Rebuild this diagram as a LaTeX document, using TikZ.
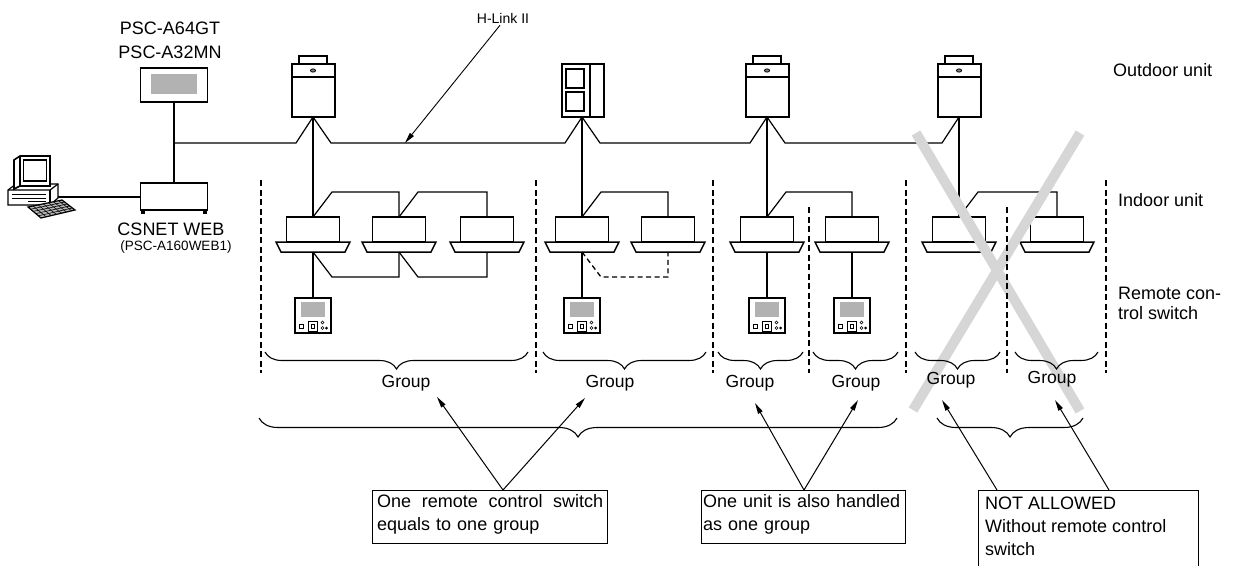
\documentclass[tikz,border=0pt]{standalone}
\usepackage{fontspec}
\setmainfont{Liberation Sans}
\usetikzlibrary{arrows.meta,decorations.pathreplacing,calc}

\definecolor{screengray}{RGB}{178,178,178}
\definecolor{crossgray}{RGB}{214,214,214}

\tikzset{
  wire/.style={line width=1.2pt},
  body/.style={line width=1.5pt},
  heavy/.style={line width=2pt},
  sepline/.style={line width=1.7pt, dash pattern=on 6pt off 3.5pt},
  linkdash/.style={line width=1.3pt, dash pattern=on 5pt off 3.5pt},
  gbrace/.style={decorate, decoration={brace, mirror, amplitude=#1}, line width=1.1pt},
  arr/.style={line width=1pt, -{Triangle[length=11pt,width=5pt]}},
  lbl/.style={inner sep=0pt, font=\fontsize{18}{24}\selectfont},
  grp/.style={inner sep=0pt, font=\fontsize{17.5}{21}\selectfont},
  notebox/.style={draw, line width=1.2pt, anchor=north west, inner sep=0pt},
  notetext/.style={anchor=north west, inner sep=0pt, align=left, font=\fontsize{18}{23}\selectfont},
  % ceiling cassette indoor unit, origin at the top centre of its body
  indoor/.pic={
    \draw[body, fill=white] (-26.5,0) rectangle (26.5,25);
    \draw[body, fill=white] (-37,25) -- (37,25) -- (32,35) -- (-32,35) -- cycle;
    \coordinate (-top) at (0,0);
    \coordinate (-bot) at (0,35);
  },
  % single-fan outdoor unit, origin at the bottom centre
  outdoor/.pic={
    \draw[heavy, fill=white] (-14,-53) rectangle (14,-61);
    \draw[heavy, fill=white] (-21.5,-53) rectangle (21.5,0);
    \draw[wire] (-21.5,-40) -- (21.5,-40);
    \draw[line width=0.8pt, fill=gray] (0,-46.5) ellipse (2.6pt and 1.6pt);
    \coordinate (-bot) at (0,0);
  },
  % twin-panel outdoor unit, origin at the bottom connection point
  outdoorb/.pic={
    \draw[heavy, fill=white] (-20,-53) rectangle (22,0);
    \draw[heavy] (8,-53) -- (8,0);
    \draw[wire] (-16,-48) rectangle (2,-29);
    \draw[wire] (-16,-25) rectangle (2,-6);
    \coordinate (-bot) at (0,0);
  },
  % wired remote control switch, origin at the top centre
  remote/.pic={
    \draw[wire, fill=white] (-18,0) rectangle (18,35);
    \fill[screengray] (-12,4) rectangle (12,19);
    \draw[line width=0.7pt] (-14,26) rectangle (-10,30);
    \draw[line width=0.9pt] (-5,23.5) rectangle (4.5,33);
    \draw[line width=0.7pt] (-2,26.5) rectangle (1.5,30);
    \draw[line width=0.6pt] (9.5,24.5) circle (1.5pt) (9.5,30) circle (1.5pt);
    \fill (13.5,30) circle (1.5pt);
    \coordinate (-top) at (0,0);
  },
}

\begin{document}
\begin{tikzpicture}[x=1pt, y=-1pt]
\useasboundingbox (0,0) rectangle (1233,565);

% ---------- personal computer ----------
\draw[wire, fill=white] (8,190) -- (16,184) -- (58,184) -- (58,198) -- (50,205) -- (8,205) -- cycle;
\draw[wire] (8,190) -- (50,190) -- (58,184);
\draw[wire] (50,190) -- (50,205);
\draw[line width=0.7pt] (12,194) -- (46,194) (12,198) -- (46,198) (28,201.5) -- (46,201.5);
\draw[line width=1.6pt, fill=white] (14,160) -- (20,156) -- (50,156) -- (50,186) -- (20,186) -- (14,189) -- cycle;
\draw[wire] (20,156) -- (20,186);
\draw[wire] (23.5,160) rectangle (46.5,181);
\draw[wire, fill=gray!55] (28,207) -- (62,200) -- (75,210) -- (41,218) -- cycle;
\foreach \k in {0.2,0.4,0.6,0.8}
  \draw[line width=0.6pt] ($(28,207)!\k!(41,218)$) -- ($(62,200)!\k!(75,210)$);
\foreach \k in {0.15,0.3,0.45,0.6,0.75,0.9}
  \draw[line width=0.6pt] ($(28,207)!\k!(62,200)$) -- ($(41,218)!\k!(75,210)$);
\coordinate (pc) at (58,197);

% ---------- central station and web server ----------
\node[lbl, align=center] (psclabel) at (170,40) {PSC-A64GT\\PSC-A32MN};
\node[draw, wire, fill=white, minimum width=67pt, minimum height=34pt, inner sep=0pt] (psc) at (174,85) {};
\fill[screengray] ($(psc.center)+(-23,-11)$) rectangle ($(psc.center)+(23,9)$);
\node[draw, wire, fill=white, minimum width=67pt, minimum height=27pt, inner sep=0pt] (csnet) at (174,196.5) {};
\fill ($(csnet.south west)+(1,0)$) rectangle ($(csnet.south west)+(5,3.5)$);
\fill ($(csnet.south east)+(-5,0)$) rectangle ($(csnet.south east)+(-1,3.5)$);
\node[lbl] (csnetlabel) at (171,229) {CSNET WEB};
\node[inner sep=0pt, font=\fontsize{13.5}{16}\selectfont] (csnetmodel) at (176,247) {(PSC-A160WEB1)};
\coordinate (bus0) at (174,143);
\draw[wire] (psc) -- (csnet);
\draw[wire] (pc) -- (csnet.west |- pc);

% ---------- outdoor units ----------
\pic (o1) at (313,117) {outdoor};
\pic (o2) at (582,117) {outdoorb};
\pic (o3) at (767,117) {outdoor};
\pic (o4) at (959,117) {outdoor};

% H-LINK II bus, looping up to every outdoor unit
\draw[wire] (bus0) -- ($(o1-bot)+(-17,26)$) -- (o1-bot) -- ($(o1-bot)+(18,26)$)
  -- ($(o2-bot)+(-17,26)$) -- (o2-bot) -- ($(o2-bot)+(18,26)$)
  -- ($(o3-bot)+(-17,26)$) -- (o3-bot) -- ($(o3-bot)+(18,26)$)
  -- ($(o4-bot)+(-17,26)$) -- (o4-bot);
\node[inner sep=0pt, font=\fontsize{14}{16}\selectfont] (hlink) at (503,18) {H-Link II};
\coordinate (hltip) at (405,143);
\draw[arr, line width=0.9pt] ([xshift=-3pt, yshift=-2pt]hlink.south) -- (hltip);

% ---------- indoor units ----------
\pic (i1) at (313,217) {indoor};
\pic (i2) at (399,217) {indoor};
\pic (i3) at (487,217) {indoor};
\pic (i4) at (582,217) {indoor};
\pic (i5) at (668,217) {indoor};
\pic (i6) at (767,217) {indoor};
\pic (i7) at (852,217) {indoor};
\pic (i8) at (959,217) {indoor};
\pic (i9) at (1057,217) {indoor};

\draw[wire] (o1-bot) -- (i1-top);
\draw[wire] (o2-bot) -- (i4-top);
\draw[wire] (o3-bot) -- (i6-top);
\draw[wire] (o4-bot) -- (i8-top);

% operation wiring between indoor units
\draw[wire] (i1-top) -- ++(19,-25) -| (i2-top);
\draw[wire] (i2-top) -- ++(19,-25) -| (i3-top);
\draw[wire] (i4-top) -- ++(19,-25) -| (i5-top);
\draw[wire] (i6-top) -- ++(19,-25) -| (i7-top);
\draw[wire] (i8-top) -- ++(19,-25) -| (i9-top);

% remote control wiring
\draw[wire] (i1-bot) -- ++(19,25) -| (i2-bot);
\draw[wire] (i2-bot) -- ++(19,25) -| (i3-bot);
\draw[linkdash] (i4-bot) -- ++(19,25) -| (i5-bot);

% ---------- remote control switches ----------
\pic (r1) at (313,298) {remote};
\pic (r2) at (582,298) {remote};
\pic (r3) at (767,298) {remote};
\pic (r4) at (852,298) {remote};
\draw[wire] (i1-bot) -- (r1-top);
\draw[wire] (i4-bot) -- (r2-top);
\draw[wire] (i6-bot) -- (r3-top);
\draw[wire] (i7-bot) -- (r4-top);

% ---------- forbidden configuration ----------
\draw[crossgray, line width=10pt] (916,133) -- (1080,411);
\draw[crossgray, line width=10pt] (1080,133) -- (913,410);

% ---------- group separators ----------
\foreach \x in {261,536,713,906,1106}
  \draw[sepline] (\x,180) -- (\x,373);
\foreach \x in {809,1007}
  \draw[sepline] (\x,207) -- (\x,373);

% ---------- braces ----------
\draw[gbrace=17pt] (265,352) -- (528,352);
\draw[gbrace=17pt] (543,352) -- (706,352);
\draw[gbrace=17pt] (718,352) -- (803,352);
\draw[gbrace=17pt] (813,352) -- (898,352);
\draw[gbrace=17pt] (915,352) -- (1000,352);
\draw[gbrace=17pt] (1015,352) -- (1098,352);
\draw[gbrace=19pt] (259,418) -- (897,418);
\draw[gbrace=19pt] (937,418) -- (1083,418);

\node[grp] (g1) at (406,383) {Group};
\node[grp] (g2) at (610,383) {Group};
\node[grp] (g3) at (750,383) {Group};
\node[grp] (g4) at (856,383) {Group};
\node[grp] (g5) at (951,380) {Group};
\node[grp] (g6) at (1052,379) {Group};

% ---------- side labels ----------
\node[lbl, anchor=west] (outlbl) at (1113,70) {Outdoor unit};
\node[lbl, anchor=west] (inlbl) at (1118,200) {Indoor unit};
\node[lbl, anchor=west, align=left, font=\fontsize{18}{20}\selectfont] (rclbl) at (1118,303) {Remote con-\\trol switch};

% ---------- explanatory notes ----------
\node[notebox, minimum width=235pt, minimum height=53pt] (box1) at (372,490) {};
\node[notetext, text width=226pt] (note1) at (377,494) {One\hfill remote\hfill control\hfill switch\\equals to one group};
\node[notebox, minimum width=204pt, minimum height=53pt] (box2) at (701,490) {};
\node[notetext, text width=197pt] (note2) at (703,494) {One\hfill unit\hfill is\hfill also\hfill handled\\as one group};
\node[notebox, minimum width=220pt, minimum height=78pt] (box3) at (978,490) {};
\node[notetext] (note3) at (985,497) {NOT ALLOWED\\Without remote control\\switch};

\coordinate (t1) at (437,397);
\coordinate (t2) at (585,398);
\coordinate (t3) at (755,403);
\coordinate (t4) at (858,400);
\coordinate (t5) at (942,400);
\coordinate (t6) at (1055,400);
\draw[arr] ($(box1.north west)+(131,0)$) -- (t1);
\draw[arr] ($(box1.north west)+(131,0)$) -- (t2);
\draw[arr] ($(box2.north west)+(103,0)$) -- (t3);
\draw[arr] ($(box2.north west)+(103,0)$) -- (t4);
\draw[arr] ($(box3.north west)+(19,0)$) -- (t5);
\draw[arr] ($(box3.north west)+(131,0)$) -- (t6);
\end{tikzpicture}
\end{document}
